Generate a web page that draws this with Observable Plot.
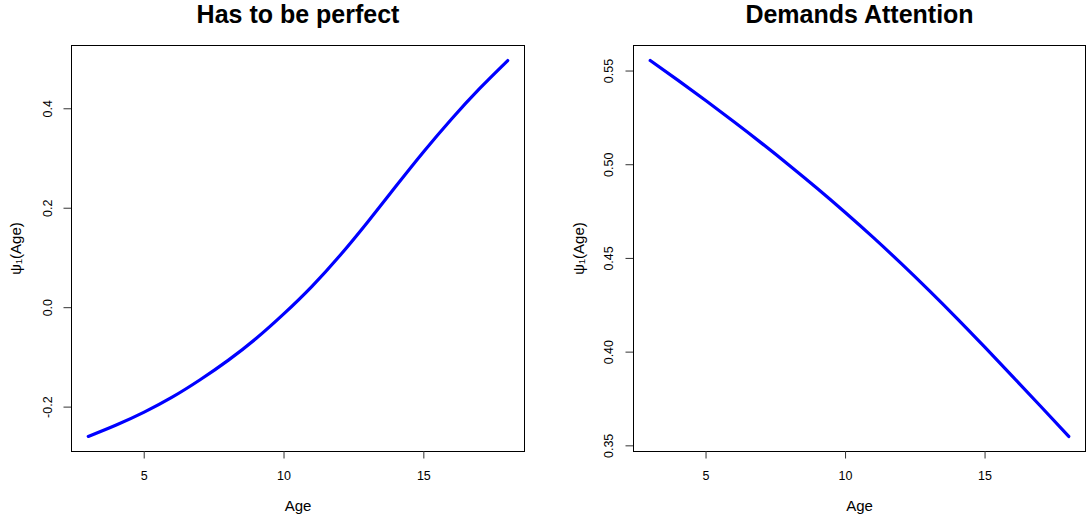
<!DOCTYPE html>
<html>
<head>
<meta charset="utf-8">
<script src="https://cdn.jsdelivr.net/npm/d3@7"></script>
<script src="https://cdn.jsdelivr.net/npm/@observablehq/plot@0.6"></script>
<style>
  html, body { margin: 0; padding: 0; background: #fff; }
  #wrap { display: flex; flex-direction: row; width: 1086px; height: 520px; overflow: hidden; }
  #wrap svg { display: block; }
</style>
</head>
<body>
<div id="wrap"></div>
<script>
// ---- data ----
const ages = [3, 4, 5, 6, 7, 8, 9, 10, 11, 12, 13, 14, 15, 16, 17, 18];
const perfectValues = [-0.259, -0.236, -0.210, -0.180, -0.145, -0.106, -0.062, -0.012, 0.043, 0.105, 0.173, 0.244, 0.314, 0.380, 0.441, 0.497];
const attentionValues = [0.5556, 0.5450, 0.5341, 0.5229, 0.5114, 0.4995, 0.4872, 0.4744, 0.4611, 0.4472, 0.4328, 0.4179, 0.4025, 0.3868, 0.3710, 0.3550];
const titles = ["Has to be perfect", "Demands Attention"];
const xTicks = [5, 10, 15];
const yTicksPerfect = [-0.2, 0.0, 0.2, 0.4];
const yTicksAttention = [0.35, 0.40, 0.45, 0.50, 0.55];
const xLabel = "Age";
const yLabel = "ψ₁(Age)";

const font = "'Liberation Sans', Arial, Helvetica, sans-serif";

function rRange(vals) {
  const lo = d3.min(vals), hi = d3.max(vals), pad = (hi - lo) * 0.04;
  return [lo - pad, hi + pad];
}

function panel({title, values, yTicks, digits, marginLeft, marginRight, yTickDx, yLabelDx}) {
  const data = ages.map((a, i) => ({age: a, value: values[i]}));
  return Plot.plot({
    width: 543,
    height: 520,
    marginTop: 45,
    marginBottom: 69,
    marginLeft,
    marginRight,
    style: {fontFamily: font, fontSize: "13px", color: "#000", background: "#fff"},
    x: {domain: rRange(ages), axis: null},
    y: {domain: rRange(values), axis: null},
    marks: [
      Plot.frame({stroke: "#000", strokeWidth: 1}),
      Plot.axisX(xTicks, {tickSize: 7.5, tickFormat: () => "", label: null, stroke: "#333"}),
      Plot.axisY(yTicks, {tickSize: 7.5, tickFormat: () => "", label: null, stroke: "#333"}),
      Plot.text(xTicks, {x: d => d, text: d => String(d), frameAnchor: "bottom", dy: 24.5, lineAnchor: "middle", fontSize: 12.5, fill: "#000"}),
      Plot.text(yTicks, {y: d => d, text: d => d.toFixed(digits), frameAnchor: "left", dx: yTickDx, rotate: -90, textAnchor: "middle", lineAnchor: "middle", fontSize: 12.5, fill: "#000"}),
      Plot.text([xLabel], {text: d => d, frameAnchor: "bottom", dy: 55, lineAnchor: "middle", fontSize: 15, fill: "#000"}),
      Plot.text([yLabel], {text: d => d, frameAnchor: "left", dx: yLabelDx, rotate: -90, textAnchor: "middle", lineAnchor: "middle", fontSize: 15, fill: "#000"}),
      Plot.text([title], {text: d => d, frameAnchor: "top", dy: -30.5, lineAnchor: "middle", fontSize: 25, fontWeight: "bold", fill: "#000"}),
      Plot.line(data, {x: "age", y: "value", stroke: "#0000ff", strokeWidth: 3.2, curve: "natural"})
    ]
  });
}

const wrap = document.getElementById("wrap");
wrap.appendChild(panel({title: titles[0], values: perfectValues, yTicks: yTicksPerfect, digits: 1, marginLeft: 71, marginRight: 19, yTickDx: -24, yLabelDx: -55.5}));
wrap.appendChild(panel({title: titles[1], values: attentionValues, yTicks: yTicksAttention, digits: 2, marginLeft: 90, marginRight: 1, yTickDx: -24.4, yLabelDx: -54.5}));
</script>
</body>
</html>
